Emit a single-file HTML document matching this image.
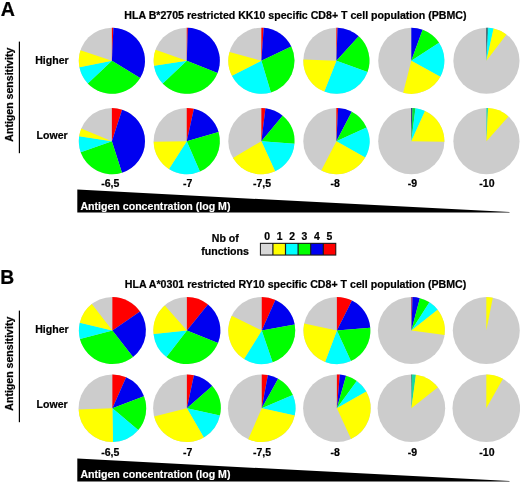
<!DOCTYPE html>
<html><head><meta charset="utf-8"><title>Figure</title>
<style>
html,body{margin:0;padding:0;background:#fff;}
body{width:520px;height:483px;overflow:hidden;}
svg{display:block;will-change:transform;}
text{font-family:"Liberation Sans",sans-serif;font-weight:bold;fill:#000;stroke:#000;stroke-width:0.22px;}
</style></head><body>
<svg width="520" height="483" viewBox="0 0 520 483">
<rect width="520" height="483" fill="#fff"/>
<text x="0.75" y="15.6" font-size="19.6">A</text>
<text x="0.3" y="284.3" font-size="19.3">B</text>
<text x="124.3" y="19.0" font-size="10.6" textLength="342.2" lengthAdjust="spacingAndGlyphs">HLA B*2705 restricted KK10 specific CD8+ T cell population (PBMC)</text>
<rect x="18.8" y="41.6" width="1.2" height="111.6" fill="#000"/>
<text transform="translate(13.2 141.7) rotate(-90)" font-size="10.6" textLength="94" lengthAdjust="spacingAndGlyphs">Antigen sensitivity</text>
<text x="35.2" y="64.0" font-size="10.6" textLength="33.5" lengthAdjust="spacingAndGlyphs">Higher</text>
<text x="36.6" y="138.8" font-size="10.6" textLength="31" lengthAdjust="spacingAndGlyphs">Lower</text>
<text x="110.2" y="186.6" font-size="10.5" text-anchor="middle">-6,5</text>
<text x="187.7" y="186.6" font-size="10.5" text-anchor="middle">-7</text>
<text x="262.0" y="186.6" font-size="10.5" text-anchor="middle">-7,5</text>
<text x="335.2" y="186.6" font-size="10.5" text-anchor="middle">-8</text>
<text x="412.5" y="186.6" font-size="10.5" text-anchor="middle">-9</text>
<text x="486.9" y="186.6" font-size="10.5" text-anchor="middle">-10</text>
<path d="M77.3 189.6L509.5 212.1L509.5 212.6L77.3 212.6Z" fill="#000"/>
<text x="80.4" y="209.8" font-size="10.6" style="fill:#fff;stroke:#fff;stroke-width:0.15px" textLength="150.1" lengthAdjust="spacingAndGlyphs">Antigen concentration (log M)</text>
<text x="124.8" y="287.75" font-size="10.6" textLength="341.5" lengthAdjust="spacingAndGlyphs">HLA A*0301 restricted RY10 specific CD8+ T cell population (PBMC)</text>
<rect x="18.8" y="310.6" width="1.2" height="111.6" fill="#000"/>
<text transform="translate(13.2 410.7) rotate(-90)" font-size="10.6" textLength="94" lengthAdjust="spacingAndGlyphs">Antigen sensitivity</text>
<text x="35.2" y="333.0" font-size="10.6" textLength="33.5" lengthAdjust="spacingAndGlyphs">Higher</text>
<text x="36.6" y="407.8" font-size="10.6" textLength="31" lengthAdjust="spacingAndGlyphs">Lower</text>
<text x="110.2" y="455.6" font-size="10.5" text-anchor="middle">-6,5</text>
<text x="187.7" y="455.6" font-size="10.5" text-anchor="middle">-7</text>
<text x="262.0" y="455.6" font-size="10.5" text-anchor="middle">-7,5</text>
<text x="335.2" y="455.6" font-size="10.5" text-anchor="middle">-8</text>
<text x="412.5" y="455.6" font-size="10.5" text-anchor="middle">-9</text>
<text x="486.9" y="455.6" font-size="10.5" text-anchor="middle">-10</text>
<path d="M77.3 458.6L509.5 481.1L509.5 481.6L77.3 481.6Z" fill="#000"/>
<text x="80.4" y="478.2" font-size="10.6" style="fill:#fff;stroke:#fff;stroke-width:0.15px" textLength="150.1" lengthAdjust="spacingAndGlyphs">Antigen concentration (log M)</text>
<rect x="259.90000000000003" y="242.8" width="76.39999999999999" height="12.8" fill="#1c1c1c"/>
<rect x="260.90000000000003" y="243.9" width="11.4" height="10.6" fill="#d8d8d8"/>
<text x="267.2" y="239.6" font-size="10.4" text-anchor="middle">0</text>
<rect x="273.50000000000006" y="243.9" width="11.4" height="10.6" fill="#ffff00"/>
<text x="279.62" y="239.6" font-size="10.4" text-anchor="middle">1</text>
<rect x="286.1" y="243.9" width="11.4" height="10.6" fill="#00ffff"/>
<text x="292.03999999999996" y="239.6" font-size="10.4" text-anchor="middle">2</text>
<rect x="298.70000000000005" y="243.9" width="11.4" height="10.6" fill="#00ff00"/>
<text x="304.46" y="239.6" font-size="10.4" text-anchor="middle">3</text>
<rect x="311.3" y="243.9" width="11.4" height="10.6" fill="#0000f0"/>
<text x="316.88" y="239.6" font-size="10.4" text-anchor="middle">4</text>
<rect x="323.90000000000003" y="243.9" width="11.4" height="10.6" fill="#ff0000"/>
<text x="329.3" y="239.6" font-size="10.4" text-anchor="middle">5</text>
<text x="225.3" y="241.9" font-size="10.6" text-anchor="middle">Nb of</text>
<text x="225.1" y="255.1" font-size="10.6" text-anchor="middle">functions</text>
<circle cx="111.9" cy="60.75" r="33.1" fill="#cccccc"/>
<path d="M111.90 60.75L111.90 27.65A33.1 33.1 0 0 1 113.40 27.68Z" fill="#ff0000"/>
<path d="M111.90 60.75L113.40 27.68A33.1 33.1 0 0 1 140.15 78.00Z" fill="#0000f0"/>
<path d="M111.90 60.75L140.15 78.00A33.1 33.1 0 0 1 87.81 83.45Z" fill="#00ff00"/>
<path d="M111.90 60.75L87.81 83.45A33.1 33.1 0 0 1 79.46 67.35Z" fill="#00ffff"/>
<path d="M111.90 60.75L79.46 67.35A33.1 33.1 0 0 1 80.47 50.36Z" fill="#ffff00"/>
<circle cx="186.75" cy="60.75" r="33.1" fill="#cccccc"/>
<path d="M186.75 60.75L186.75 27.65A33.1 33.1 0 0 1 187.91 27.67Z" fill="#ff0000"/>
<path d="M186.75 60.75L187.91 27.67A33.1 33.1 0 0 1 217.55 72.88Z" fill="#0000f0"/>
<path d="M186.75 60.75L217.55 72.88A33.1 33.1 0 0 1 162.74 83.53Z" fill="#00ff00"/>
<path d="M186.75 60.75L162.74 83.53A33.1 33.1 0 0 1 154.02 65.70Z" fill="#00ffff"/>
<path d="M186.75 60.75L154.02 65.70A33.1 33.1 0 0 1 155.53 49.76Z" fill="#ffff00"/>
<circle cx="261.4" cy="60.75" r="33.1" fill="#cccccc"/>
<path d="M261.40 60.75L261.40 27.65A33.1 33.1 0 0 1 263.71 27.73Z" fill="#ff0000"/>
<path d="M261.40 60.75L263.71 27.73A33.1 33.1 0 0 1 291.30 46.55Z" fill="#0000f0"/>
<path d="M261.40 60.75L291.30 46.55A33.1 33.1 0 0 1 270.91 92.45Z" fill="#00ff00"/>
<path d="M261.40 60.75L270.91 92.45A33.1 33.1 0 0 1 231.93 75.83Z" fill="#00ffff"/>
<path d="M261.40 60.75L231.93 75.83A33.1 33.1 0 0 1 229.47 52.02Z" fill="#ffff00"/>
<circle cx="336.4" cy="60.75" r="33.1" fill="#cccccc"/>
<path d="M336.40 60.75L336.40 27.65A33.1 33.1 0 0 1 337.56 27.67Z" fill="#ff0000"/>
<path d="M336.40 60.75L337.56 27.67A33.1 33.1 0 0 1 358.76 36.35Z" fill="#0000f0"/>
<path d="M336.40 60.75L358.76 36.35A33.1 33.1 0 0 1 367.50 72.07Z" fill="#00ff00"/>
<path d="M336.40 60.75L367.50 72.07A33.1 33.1 0 0 1 324.32 91.57Z" fill="#00ffff"/>
<path d="M336.40 60.75L324.32 91.57A33.1 33.1 0 0 1 303.32 59.59Z" fill="#ffff00"/>
<circle cx="411.3" cy="60.75" r="33.1" fill="#cccccc"/>
<path d="M411.30 60.75L411.30 27.65A33.1 33.1 0 0 1 422.62 29.65Z" fill="#0000f0"/>
<path d="M411.30 60.75L422.62 29.65A33.1 33.1 0 0 1 439.06 42.72Z" fill="#00ff00"/>
<path d="M411.30 60.75L439.06 42.72A33.1 33.1 0 0 1 440.33 76.65Z" fill="#00ffff"/>
<path d="M411.30 60.75L440.33 76.65A33.1 33.1 0 0 1 403.18 92.84Z" fill="#ffff00"/>
<circle cx="486.45" cy="60.75" r="33.1" fill="#cccccc"/>
<path d="M486.45 60.75L486.45 27.65A33.1 33.1 0 0 1 487.37 27.66Z" fill="#00283a"/>
<path d="M486.45 60.75L487.37 27.66A33.1 33.1 0 0 1 488.30 27.70Z" fill="#008a8a"/>
<path d="M486.45 60.75L488.30 27.70A33.1 33.1 0 0 1 493.61 28.43Z" fill="#00ffff"/>
<path d="M486.45 60.75L493.61 28.43A33.1 33.1 0 0 1 506.46 34.38Z" fill="#ffff00"/>
<circle cx="111.9" cy="141.15" r="33.1" fill="#cccccc"/>
<path d="M111.90 141.15L111.90 108.05A33.1 33.1 0 0 1 122.13 109.67Z" fill="#ff0000"/>
<path d="M111.90 141.15L122.13 109.67A33.1 33.1 0 0 1 121.96 172.68Z" fill="#0000f0"/>
<path d="M111.90 141.15L121.96 172.68A33.1 33.1 0 0 1 80.68 152.14Z" fill="#00ff00"/>
<path d="M111.90 141.15L80.68 152.14A33.1 33.1 0 0 1 79.16 136.26Z" fill="#00ffff"/>
<path d="M111.90 141.15L79.16 136.26A33.1 33.1 0 0 1 81.28 128.59Z" fill="#ffff00"/>
<circle cx="186.75" cy="141.15" r="33.1" fill="#cccccc"/>
<path d="M186.75 141.15L186.75 108.05A33.1 33.1 0 0 1 193.91 108.83Z" fill="#ff0000"/>
<path d="M186.75 141.15L193.91 108.83A33.1 33.1 0 0 1 218.55 131.97Z" fill="#0000f0"/>
<path d="M186.75 141.15L218.55 131.97A33.1 33.1 0 0 1 199.90 171.53Z" fill="#00ff00"/>
<path d="M186.75 141.15L199.90 171.53A33.1 33.1 0 0 1 168.97 169.07Z" fill="#00ffff"/>
<path d="M186.75 141.15L168.97 169.07A33.1 33.1 0 0 1 153.66 141.73Z" fill="#ffff00"/>
<circle cx="261.4" cy="141.15" r="33.1" fill="#cccccc"/>
<path d="M261.40 141.15L261.40 108.05A33.1 33.1 0 0 1 265.43 108.30Z" fill="#ff0000"/>
<path d="M261.40 141.15L265.43 108.30A33.1 33.1 0 0 1 282.63 115.76Z" fill="#0000f0"/>
<path d="M261.40 141.15L282.63 115.76A33.1 33.1 0 0 1 294.41 143.63Z" fill="#00ff00"/>
<path d="M261.40 141.15L294.41 143.63A33.1 33.1 0 0 1 275.13 171.27Z" fill="#00ffff"/>
<path d="M261.40 141.15L275.13 171.27A33.1 33.1 0 0 1 232.97 158.10Z" fill="#ffff00"/>
<circle cx="336.4" cy="141.15" r="33.1" fill="#cccccc"/>
<path d="M336.40 141.15L336.40 108.05A33.1 33.1 0 0 1 338.13 108.10Z" fill="#ff0000"/>
<path d="M336.40 141.15L338.13 108.10A33.1 33.1 0 0 1 351.79 111.84Z" fill="#0000f0"/>
<path d="M336.40 141.15L351.79 111.84A33.1 33.1 0 0 1 366.52 127.42Z" fill="#00ff00"/>
<path d="M336.40 141.15L366.52 127.42A33.1 33.1 0 0 1 365.15 157.55Z" fill="#00ffff"/>
<path d="M336.40 141.15L365.15 157.55A33.1 33.1 0 0 1 321.27 170.59Z" fill="#ffff00"/>
<circle cx="411.3" cy="141.15" r="33.1" fill="#cccccc"/>
<path d="M411.30 141.15L411.30 108.05A33.1 33.1 0 0 1 412.46 108.07Z" fill="#000060"/>
<path d="M411.30 141.15L412.46 108.07A33.1 33.1 0 0 1 415.51 108.32Z" fill="#00e040"/>
<path d="M411.30 141.15L415.51 108.32A33.1 33.1 0 0 1 425.03 111.03Z" fill="#00ffff"/>
<path d="M411.30 141.15L425.03 111.03A33.1 33.1 0 0 1 444.39 141.73Z" fill="#ffff00"/>
<circle cx="486.45" cy="141.15" r="33.1" fill="#cccccc"/>
<path d="M486.45 141.15L486.45 108.05A33.1 33.1 0 0 1 488.07 108.09Z" fill="#20d8a8"/>
<path d="M486.45 141.15L488.07 108.09A33.1 33.1 0 0 1 508.47 116.44Z" fill="#ffff00"/>
<circle cx="112.4" cy="330.55" r="33.5" fill="#cccccc"/>
<path d="M112.40 330.55L112.40 297.05A33.5 33.5 0 0 1 140.01 311.58Z" fill="#ff0000"/>
<path d="M112.40 330.55L140.01 311.58A33.5 33.5 0 0 1 133.02 356.95Z" fill="#0000f0"/>
<path d="M112.40 330.55L133.02 356.95A33.5 33.5 0 0 1 79.95 338.88Z" fill="#00ff00"/>
<path d="M112.40 330.55L79.95 338.88A33.5 33.5 0 0 1 79.81 322.79Z" fill="#00ffff"/>
<path d="M112.40 330.55L79.81 322.79A33.5 33.5 0 0 1 91.82 304.12Z" fill="#ffff00"/>
<circle cx="186.9" cy="330.55" r="33.5" fill="#cccccc"/>
<path d="M186.90 330.55L186.90 297.05A33.5 33.5 0 0 1 207.98 304.52Z" fill="#ff0000"/>
<path d="M186.90 330.55L207.98 304.52A33.5 33.5 0 0 1 218.00 342.99Z" fill="#0000f0"/>
<path d="M186.90 330.55L218.00 342.99A33.5 33.5 0 0 1 166.46 357.09Z" fill="#00ff00"/>
<path d="M186.90 330.55L166.46 357.09A33.5 33.5 0 0 1 153.57 333.88Z" fill="#00ffff"/>
<path d="M186.90 330.55L153.57 333.88A33.5 33.5 0 0 1 164.79 305.38Z" fill="#ffff00"/>
<circle cx="261.75" cy="330.55" r="33.5" fill="#cccccc"/>
<path d="M261.75 330.55L261.75 297.05A33.5 33.5 0 0 1 275.38 299.95Z" fill="#ff0000"/>
<path d="M261.75 330.55L275.38 299.95A33.5 33.5 0 0 1 294.69 324.45Z" fill="#0000f0"/>
<path d="M261.75 330.55L294.69 324.45A33.5 33.5 0 0 1 272.60 362.24Z" fill="#00ff00"/>
<path d="M261.75 330.55L272.60 362.24A33.5 33.5 0 0 1 244.00 358.96Z" fill="#00ffff"/>
<path d="M261.75 330.55L244.00 358.96A33.5 33.5 0 0 1 231.74 315.65Z" fill="#ffff00"/>
<circle cx="336.9" cy="330.55" r="33.5" fill="#cccccc"/>
<path d="M336.90 330.55L336.90 297.05A33.5 33.5 0 0 1 351.95 300.62Z" fill="#ff0000"/>
<path d="M336.90 330.55L351.95 300.62A33.5 33.5 0 0 1 370.28 327.69Z" fill="#0000f0"/>
<path d="M336.90 330.55L370.28 327.69A33.5 33.5 0 0 1 350.90 360.99Z" fill="#00ff00"/>
<path d="M336.90 330.55L350.90 360.99A33.5 33.5 0 0 1 325.06 361.89Z" fill="#00ffff"/>
<path d="M336.90 330.55L325.06 361.89A33.5 33.5 0 0 1 304.14 323.53Z" fill="#ffff00"/>
<circle cx="411.4" cy="330.55" r="33.5" fill="#cccccc"/>
<path d="M411.40 330.55L411.40 297.05A33.5 33.5 0 0 1 412.57 297.07Z" fill="#90005a"/>
<path d="M411.40 330.55L412.57 297.07A33.5 33.5 0 0 1 419.84 298.13Z" fill="#0000f0"/>
<path d="M411.40 330.55L419.84 298.13A33.5 33.5 0 0 1 429.45 302.33Z" fill="#00ff00"/>
<path d="M411.40 330.55L429.45 302.33A33.5 33.5 0 0 1 437.65 309.74Z" fill="#00ffff"/>
<path d="M411.40 330.55L437.65 309.74A33.5 33.5 0 0 1 444.61 334.92Z" fill="#ffff00"/>
<circle cx="486.3" cy="330.55" r="33.5" fill="#cccccc"/>
<path d="M486.30 330.55L486.30 297.05A33.5 33.5 0 0 1 492.81 297.69Z" fill="#ffff00"/>
<circle cx="112.4" cy="408.25" r="33.8" fill="#cccccc"/>
<path d="M112.40 408.25L112.40 374.45A33.8 33.8 0 0 1 126.15 377.37Z" fill="#ff0000"/>
<path d="M112.40 408.25L126.15 377.37A33.8 33.8 0 0 1 143.96 396.14Z" fill="#0000f0"/>
<path d="M112.40 408.25L143.96 396.14A33.8 33.8 0 0 1 138.22 430.07Z" fill="#00ff00"/>
<path d="M112.40 408.25L138.22 430.07A33.8 33.8 0 0 1 112.99 442.04Z" fill="#00ffff"/>
<path d="M112.40 408.25L112.99 442.04A33.8 33.8 0 0 1 78.62 409.43Z" fill="#ffff00"/>
<circle cx="186.9" cy="408.25" r="33.8" fill="#cccccc"/>
<path d="M186.90 408.25L186.90 374.45A33.8 33.8 0 0 1 193.93 375.19Z" fill="#ff0000"/>
<path d="M186.90 408.25L193.93 375.19A33.8 33.8 0 0 1 212.25 385.90Z" fill="#0000f0"/>
<path d="M186.90 408.25L212.25 385.90A33.8 33.8 0 0 1 219.89 415.62Z" fill="#00ff00"/>
<path d="M186.90 408.25L219.89 415.62A33.8 33.8 0 0 1 203.85 437.49Z" fill="#00ffff"/>
<path d="M186.90 408.25L203.85 437.49A33.8 33.8 0 0 1 154.13 416.54Z" fill="#ffff00"/>
<circle cx="261.75" cy="408.25" r="33.8" fill="#cccccc"/>
<path d="M261.75 408.25L261.75 374.45A33.8 33.8 0 0 1 267.91 375.02Z" fill="#ff0000"/>
<path d="M261.75 408.25L267.91 375.02A33.8 33.8 0 0 1 278.14 378.69Z" fill="#0000f0"/>
<path d="M261.75 408.25L278.14 378.69A33.8 33.8 0 0 1 292.82 394.93Z" fill="#00ff00"/>
<path d="M261.75 408.25L292.82 394.93A33.8 33.8 0 0 1 294.75 415.57Z" fill="#00ffff"/>
<path d="M261.75 408.25L294.75 415.57A33.8 33.8 0 0 1 248.27 439.25Z" fill="#ffff00"/>
<circle cx="336.9" cy="408.25" r="33.8" fill="#cccccc"/>
<path d="M336.90 408.25L336.90 374.45A33.8 33.8 0 0 1 339.85 374.58Z" fill="#ff0000"/>
<path d="M336.90 408.25L339.85 374.58A33.8 33.8 0 0 1 346.10 375.73Z" fill="#0000f0"/>
<path d="M336.90 408.25L346.10 375.73A33.8 33.8 0 0 1 356.77 380.91Z" fill="#00ff00"/>
<path d="M336.90 408.25L356.77 380.91A33.8 33.8 0 0 1 366.32 391.61Z" fill="#00ffff"/>
<path d="M336.90 408.25L366.32 391.61A33.8 33.8 0 0 1 351.08 438.93Z" fill="#ffff00"/>
<circle cx="411.4" cy="408.25" r="33.8" fill="#cccccc"/>
<path d="M411.40 408.25L411.40 374.45A33.8 33.8 0 0 1 411.99 374.46Z" fill="#0c5c4c"/>
<path d="M411.40 408.25L411.99 374.46A33.8 33.8 0 0 1 415.93 374.75Z" fill="#18d8a0"/>
<path d="M411.40 408.25L415.93 374.75A33.8 33.8 0 0 1 437.93 387.30Z" fill="#ffff00"/>
<circle cx="486.3" cy="408.25" r="33.8" fill="#cccccc"/>
<path d="M486.30 408.25L486.30 374.45A33.8 33.8 0 0 1 503.00 378.86Z" fill="#ffff00"/>
</svg>
</body></html>
